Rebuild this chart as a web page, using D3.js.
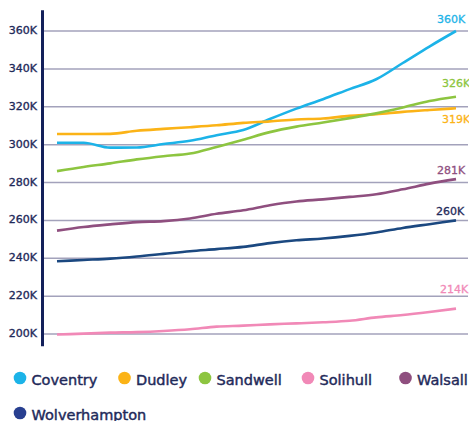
<!DOCTYPE html>
<html>
<head>
<meta charset="utf-8">
<script src="https://cdn.jsdelivr.net/npm/d3@7"></script>
<style>
  html, body { margin: 0; padding: 0; background: #fff; }
  svg { display: block; }
  text { font-family: "DejaVu Sans", sans-serif; font-weight: normal; paint-order: stroke; }
</style>
</head>
<body>
<svg id="chart" width="469" height="421"></svg>
<script>
// ---- data ----
const years = [2005, 2006, 2007, 2008, 2009, 2010, 2011, 2012, 2013, 2014, 2015, 2016, 2017, 2018, 2019, 2020];
const seriesNames = ["Coventry", "Dudley", "Sandwell", "Solihull", "Walsall", "Wolverhampton"];
const coventry      = [301, 301, 298.4, 298.5, 300.3, 302, 305, 307.7, 313.5, 319, 324, 329.3, 334.5, 343.1, 351.8, 360];
const dudley        = [305.6, 305.6, 305.7, 307.3, 308.3, 309.2, 310.2, 311.5, 312.3, 313.3, 313.8, 315.2, 316, 317.3, 318.3, 319.2];
const sandwell      = [286, 288.2, 290.1, 292.2, 293.9, 295.3, 298.8, 302.6, 306.6, 309.5, 311.7, 314, 316.5, 319.6, 323, 325.3];
const solihull      = [199.7, 200.2, 200.7, 201, 201.6, 202.5, 203.9, 204.4, 205.1, 205.6, 206.2, 207, 208.8, 210, 211.6, 213.4];
const walsall       = [254.6, 256.5, 257.9, 259.1, 259.6, 261, 263.5, 265.3, 268, 270, 271.1, 272.4, 273.8, 276.4, 279.4, 281.8];
const wolverhampton = [238.4, 239.1, 239.8, 240.9, 242.3, 243.7, 244.8, 246, 248, 249.5, 250.4, 251.8, 253.6, 256, 258, 260];
const endLabels = ["360K", "319K", "326K", "214K", "281K", "260K"];
const yTicks = [200, 220, 240, 260, 280, 300, 320, 340, 360];
const yTickLabels = ["200K", "220K", "240K", "260K", "280K", "300K", "320K", "340K", "360K"];

// ---- styles / layout ----
const lineColors   = ["#1cb3e8", "#fbb317", "#8dc540", "#f189b7", "#8f4f7f", "#1b4880"];
const legendColors = ["#1cb3e8", "#fbb317", "#8dc540", "#f189b7", "#8f4f7f", "#283f90"];
const labelColors  = ["#1cb3e8", "#fbb317", "#8dc540", "#f189b7", "#8f4f7f", "#1f2a5a"];
const labelDx = [-19, -14, -14, -16, -19, -20];
const labelDy = [-8, 15, -10, -16, -5, -5];
const navy = "#1f2a5a";

const values = [coventry, dudley, sandwell, solihull, walsall, wolverhampton];
const series = seriesNames.map((name, i) => ({ name, vals: values[i], i }));

const svg = d3.select("#chart");
const x = d3.scalePoint().domain(years).range([57, 456]);
const y = d3.scaleLinear().domain([200, 360]).range([334, 31]);

// gridlines
svg.append("g").selectAll("line").data(yTicks).join("line")
  .attr("x1", 42).attr("x2", 468)
  .attr("y1", d => y(d)).attr("y2", d => y(d))
  .attr("stroke", "#a3a2bb").attr("stroke-width", 1.5);

// y axis labels
svg.append("g").selectAll("text").data(yTicks).join("text")
  .attr("x", 37).attr("y", d => y(d))
  .attr("text-anchor", "end").attr("dominant-baseline", "middle")
  .attr("fill", navy).attr("stroke", navy).attr("stroke-width", 0.35)
  .attr("font-size", 11)
  .text((d, i) => yTickLabels[i]);

// axis line
svg.append("line")
  .attr("x1", 42.5).attr("x2", 42.5)
  .attr("y1", y(371)).attr("y2", y(193.5))
  .attr("stroke", "#13205a").attr("stroke-width", 3);

// lines
const line = d3.line().x((d, j) => x(years[j])).y(d => y(d)).curve(d3.curveMonotoneX);
svg.append("g").selectAll("path").data(series).join("path")
  .attr("d", s => line(s.vals))
  .attr("fill", "none")
  .attr("stroke", s => lineColors[s.i])
  .attr("stroke-width", 2.6)
  .attr("stroke-linejoin", "round");

// end labels
svg.append("g").selectAll("text").data(series).join("text")
  .attr("x", s => x(years[years.length - 1]) + labelDx[s.i])
  .attr("y", s => y(s.vals[s.vals.length - 1]) + labelDy[s.i])
  .attr("fill", s => labelColors[s.i])
  .attr("stroke", s => labelColors[s.i]).attr("stroke-width", 0.3)
  .attr("font-size", 11)
  .text(s => endLabels[s.i]);

// legend
const legendPos = [[20, 378], [124.5, 378], [205, 378], [308, 378], [405.5, 378], [20, 413]];
const lg = svg.append("g").selectAll("g").data(series).join("g")
  .attr("transform", s => `translate(${legendPos[s.i][0]},${legendPos[s.i][1]})`);
lg.append("circle").attr("r", 6.3).attr("fill", s => legendColors[s.i]);
lg.append("text").attr("x", 11.5).attr("y", 6.5)
  .attr("fill", navy).attr("stroke", navy).attr("stroke-width", 0.45)
  .attr("font-size", 14.5)
  .text(s => s.name);
</script>
</body>
</html>
